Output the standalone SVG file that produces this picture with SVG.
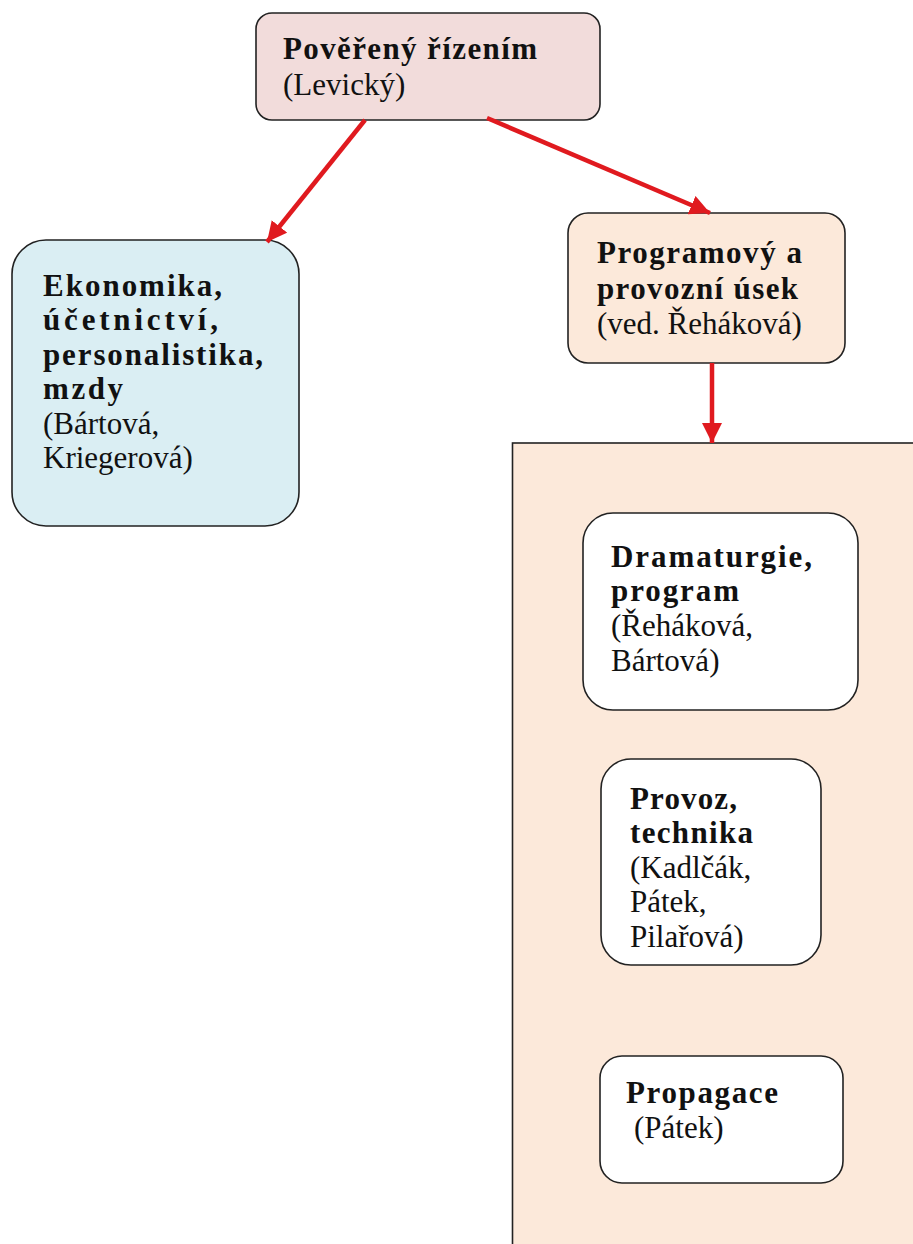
<svg xmlns="http://www.w3.org/2000/svg" width="913" height="1244" viewBox="0 0 913 1244">
<defs>
<marker id="ah" markerUnits="userSpaceOnUse" markerWidth="24" markerHeight="22" refX="20" refY="10" orient="auto">
<path d="M0,0 L20,10 L0,20 Z" fill="#e01a1f"/>
</marker>
</defs>
<style>
.box{stroke:#222;stroke-width:1.6}
.t{font-family:"Liberation Serif","Times New Roman",serif;font-size:31px;fill:#111}
.b{font-weight:bold}
.conn{stroke:#e01a1f;stroke-width:4.5;fill:none}
</style>
<rect width="913" height="1244" fill="#ffffff"/>
<g id="container">
<rect x="512.5" y="443" width="420" height="820" fill="#fce9da" class="box"/>
</g>
<g id="node-top">
<rect x="256" y="13" width="344" height="107" rx="16" fill="#f2dcdb" class="box"/>
<text class="t b" x="283" y="59" textLength="254" lengthAdjust="spacing">Pověřený řízením</text>
<text class="t" x="283" y="95">(Levický)</text>
</g>
<g id="node-ekonomika">
<rect x="12" y="240" width="287" height="286" rx="34" fill="#daeef3" class="box"/>
<text class="t b" x="43" y="296" textLength="179" lengthAdjust="spacing">Ekonomika,</text>
<text class="t b" x="43" y="330" textLength="175" lengthAdjust="spacing">účetnictví,</text>
<text class="t b" x="43" y="365" textLength="220" lengthAdjust="spacing">personalistika,</text>
<text class="t b" x="43" y="399" textLength="80" lengthAdjust="spacing">mzdy</text>
<text class="t" x="43" y="434">(Bártová,</text>
<text class="t" x="43" y="468">Kriegerová)</text>
</g>
<g id="node-programovy">
<rect x="568" y="213" width="277" height="150" rx="20" fill="#fce9da" class="box"/>
<text class="t b" x="597" y="263" textLength="205" lengthAdjust="spacing">Programový a</text>
<text class="t b" x="597" y="299" textLength="201" lengthAdjust="spacing">provozní úsek</text>
<text class="t" x="597" y="334">(ved. Řeháková)</text>
</g>
<g id="node-dramaturgie">
<rect x="583" y="513" width="275" height="197" rx="30" fill="#ffffff" class="box"/>
<text class="t b" x="611" y="567" textLength="201" lengthAdjust="spacing">Dramaturgie,</text>
<text class="t b" x="611" y="601" textLength="128" lengthAdjust="spacing">program</text>
<text class="t" x="611" y="636">(Řeháková,</text>
<text class="t" x="611" y="671">Bártová)</text>
</g>
<g id="node-provoz">
<rect x="601" y="759" width="220" height="206" rx="30" fill="#ffffff" class="box"/>
<text class="t b" x="630" y="809" textLength="107" lengthAdjust="spacing">Provoz,</text>
<text class="t b" x="630" y="843" textLength="123" lengthAdjust="spacing">technika</text>
<text class="t" x="630" y="878">(Kadlčák,</text>
<text class="t" x="630" y="912">Pátek,</text>
<text class="t" x="630" y="947">Pilařová)</text>
</g>
<g id="node-propagace">
<rect x="600" y="1056" width="243" height="127" rx="22" fill="#ffffff" class="box"/>
<text class="t b" x="626" y="1103" textLength="152" lengthAdjust="spacing">Propagace</text>
<text class="t" x="634" y="1138">(Pátek)</text>
</g>
<g id="connectors">
<line class="conn" x1="365" y1="120" x2="267" y2="242" marker-end="url(#ah)"/>
<line class="conn" x1="487" y1="118" x2="710" y2="213" marker-end="url(#ah)"/>
<line class="conn" x1="712" y1="363" x2="712" y2="443" marker-end="url(#ah)"/>
</g>
</svg>
